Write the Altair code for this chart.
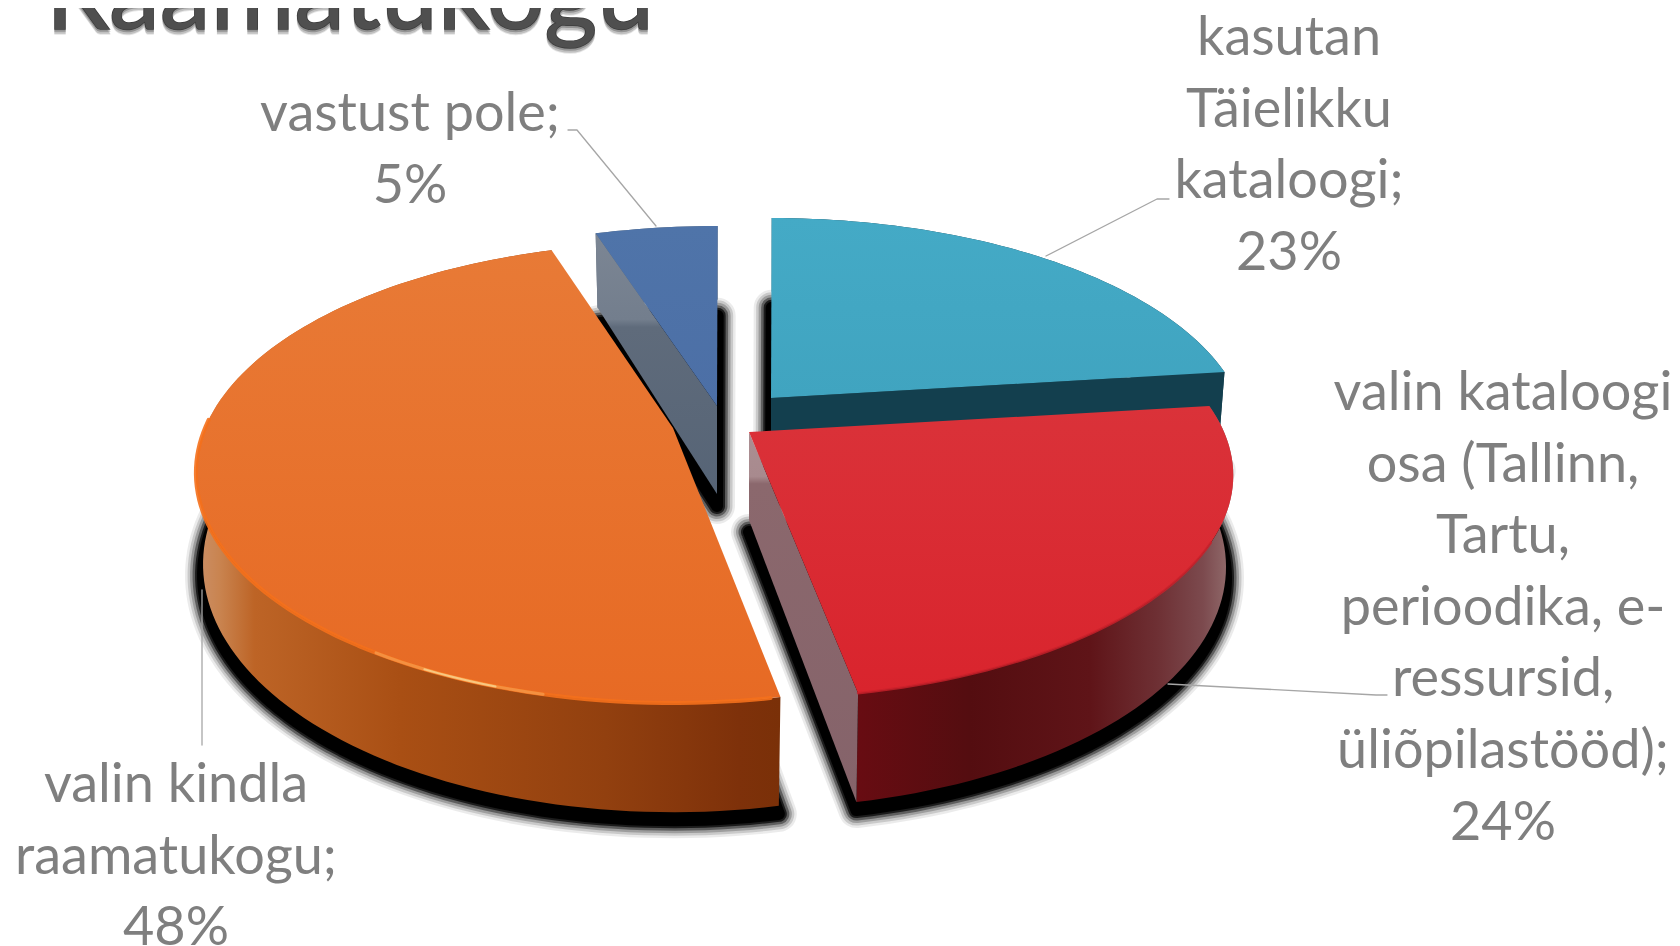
import math
import altair as alt
import pandas as pd

W, H = 1664, 938
OFF = 8  # page margin

categories = ["kasutan Täielikku kataloogi", "valin kataloogi osa", "valin kindla raamatukogu", "vastust pole"]
shares = [23, 24, 48, 5]
start_deg = -89.9
apex_x = [771, 749, 673, 717]
apex_y = [398, 432, 428, 406]
y_stretch = [1.0, 1.0, 1.03, 1.0]
x_stretch = [1.0, 1.015, 1.0, 1.0]

RX, RY, K, T0 = 468.0, 215.0, 0.1946, 88.0

title_text = "Raamatukogu"
label_lines = [
    ["kasutan", "Täielikku", "kataloogi;", "23%"],
    ["valin kataloogi", "osa (Tallinn,", "Tartu,", "perioodika, e-", "ressursid,", "üliõpilastööd);", "24%"],
    ["valin kindla", "raamatukogu;", "48%"],
    ["vastust pole;", "5%"],
]
label_x = [1289, 1503, 176, 410]
label_y0 = [55, 410, 802, 131]
LINE_H = 71.6
leader_x = [[1169, 1157, 1046], [1387, 1376, 1168], [202, 202], [568, 577, 656]]
leader_y = [[199, 199, 256], [695, 695, 684], [745, 590], [130, 130, 226]]

x_scale = alt.Scale(domain=[0, W], range=[0, W], nice=False, zero=False)
y_scale = alt.Scale(domain=[0, H], range=[0, H], nice=False, zero=False)


def proj(idx, deg, r=1.0, down=False, extra=0.0):
    a = math.radians(deg)
    u, v = r * math.cos(a), r * math.sin(a)
    d = 1 - K * v
    X, Y = x_stretch[idx] * RX * u / d, y_stretch[idx] * RY * v / d
    if down:
        X *= 0.985
        Y += T0 / d + extra * (12 - 4 * v)
    return apex_x[idx] + X, apex_y[idx] + Y


def arc(idx, a0, a1, **kw):
    n = max(4, int(abs(a1 - a0) / 1.5))
    return [proj(idx, a0 + (a1 - a0) * i / n, **kw) for i in range(n + 1)]


def shape(pts, **mark):
    df = pd.DataFrame({"x": [p[0] - OFF for p in pts], "y": [p[1] - OFF for p in pts], "i": range(len(pts))})
    mark.setdefault("strokeJoin", "round")
    mark.setdefault("strokeCap", "round")
    return alt.Chart(df).mark_line(**mark).encode(
        x=alt.X("x:Q", scale=x_scale, axis=None),
        y=alt.Y("y:Q", scale=y_scale, axis=None),
        order=alt.Order("i:Q"),
    )


def grad(stops, horizontal=True):
    return alt.Gradient(
        gradient="linear",
        stops=[alt.GradientStop(offset=o, color=c) for o, c in stops],
        x1=0, y1=0, x2=1 if horizontal else 0, y2=0 if horizontal else 1,
    )


def txt(s, x, y, **mark):
    df = pd.DataFrame({"x": [x - OFF], "y": [y - OFF], "t": [s]})
    return alt.Chart(df).mark_text(**mark).encode(
        x=alt.X("x:Q", scale=x_scale, axis=None),
        y=alt.Y("y:Q", scale=y_scale, axis=None),
        text="t:N",
    )


wall_grad = {
    0: grad([(0, "#133f4e"), (1, "#133f4e")]),
    1: grad([(0, "#680c12"), (0.3, "#540d10"), (0.62, "#5f1418"), (0.8, "#6e3034"), (0.92, "#7c4a4e"), (1, "#947070")]),
    2: grad([(0, "#cc9068"), (0.04, "#c98450"), (0.1, "#bd6426"), (0.35, "#a94f14"), (0.7, "#92400f"), (0.93, "#7e310a"), (1, "#7a3008")]),
    3: grad([(0, "#5a6878"), (1, "#5a6878")]),
}
radial_grad = {
    0: grad([(0, "#133f4e"), (1, "#133f4e")], False),
    1: grad([(0, "#ab8e92"), (0.12, "#a88a8e"), (0.14, "#8b686d"), (1, "#85636a")], False),
    3: grad([(0, "#7c8694"), (0.33, "#737e8d"), (0.36, "#5f6b7b"), (1, "#566476")], False),
}
# which straight edge of each slice faces the viewer: 0 = start, 1 = end, None = neither
radial_side = [1, 1, None, 0]
top_grad = {
    0: grad([(0, "#44aac6"), (1, "#40a4c0")], False),
    1: grad([(0, "#da3239"), (1, "#d9242d")], False),
    2: grad([(0, "#e87a36"), (1, "#e76a24")], False),
    3: grad([(0, "#4f74a9"), (1, "#4c6fa6")], False),
}

layers = []
angles = []
cum = start_deg
for s in shares:
    angles.append((cum, cum + s * 3.6))
    cum += s * 3.6

for idx in [3, 0, 2, 1]:
    ax, ay = apex_x[idx], apex_y[idx]
    a0, a1 = angles[idx]
    # blurred shadow
    apex_b = proj(idx, 0, r=0.0, down=True, extra=1.0)
    sh = [apex_b] + arc(idx, a0, a1, down=True, extra=1.0)
    sh = sh + [sh[0]]
    for w, op in [(36, 0.08), (31, 0.14), (26, 0.22), (21, 0.4), (16, 0.7), (12, 1.0)]:
        layers.append(shape(sh, fill="#000000", fillOpacity=op, stroke="#000000", strokeOpacity=op, strokeWidth=w))
    # outer wall
    top_arc = arc(idx, a0, a1)
    bot_arc = arc(idx, a0, a1, down=True)
    wall = top_arc + bot_arc[::-1]
    layers.append(shape(wall + [wall[0]], fill=wall_grad[idx], stroke="#00000000", strokeWidth=0))
    # visible straight edge
    side = radial_side[idx]
    if side is not None:
        ang = a1 if side == 1 else a0
        p0 = (ax, ay)
        p1 = proj(idx, ang)
        p2 = proj(idx, ang, down=True)
        p3 = proj(idx, 0, r=0.0, down=True)
        q = [p0, p1, p2, p3, p0]
        layers.append(shape(q, fill=radial_grad[idx], stroke="#00000000", strokeWidth=0))
    # top surface
    top = [(ax, ay)] + top_arc + [(ax, ay)]
    layers.append(shape(top, fill=top_grad[idx], stroke="#00000000", strokeWidth=0))
    # bright rim on the front
    if idx == 2:
        layers.append(shape(arc(idx, a0 + 1, a1 - 70), stroke="#f4701c", strokeWidth=4, opacity=0.9))
        layers.append(shape(arc(idx, 103, 122), stroke="#f49040", strokeWidth=3))
        layers.append(shape(arc(idx, 108, 116), stroke="#f8c880", strokeWidth=2))
    if idx == 1:
        layers.append(shape(arc(idx, a0 + 35, a1), stroke="#c9202a", strokeWidth=2.5, opacity=0.8))

# title with its soft shadow
TITLE = dict(font="Lato", fontSize=102, align="center", baseline="alphabetic")
TX, TY = 350, 29
for dy, op in [(5, 0.12), (3.5, 0.2), (2, 0.3)]:
    layers.append(txt(title_text, TX, TY + dy, color="#303030", opacity=op, stroke="#303030", strokeWidth=1.5, **TITLE))
layers.append(txt(title_text, TX, TY, color="#3c3c3c", stroke="#3c3c3c", strokeWidth=1.5, **TITLE))
layers.append(txt(title_text, TX, TY, color="#4f4f4f", **TITLE))

# leader lines
for lx, ly in zip(leader_x, leader_y):
    layers.append(shape(list(zip(lx, ly)), stroke="#a6a6a6", strokeWidth=1.3))

# data labels
for lines, cx, y0 in zip(label_lines, label_x, label_y0):
    for j, line in enumerate(lines):
        layers.append(txt(line, cx, y0 + j * LINE_H, font="Lato", fontSize=54, color="#7f7f7f",
                          align="center", baseline="alphabetic"))

chart = alt.layer(*layers).properties(
    width=W, height=H, padding=0, background="white",
    autosize=alt.AutoSizeParams(type="none"),
).configure_view(stroke=None)

chart.save("out.html", embed_options={"renderer": "svg", "actions": False})
